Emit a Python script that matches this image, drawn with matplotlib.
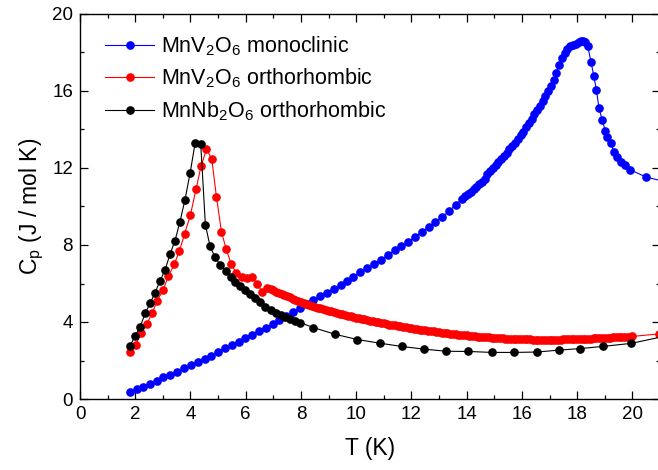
import matplotlib
matplotlib.use("Agg")
import matplotlib.pyplot as plt
from matplotlib.ticker import MultipleLocator

plt.rcParams['font.family'] = ['Liberation Sans', 'DejaVu Sans']
plt.rcParams['mathtext.default'] = 'regular'

# ---- MnV2O6 monoclinic (blue) ----
mono_T = [1.81, 2.05, 2.29, 2.54, 2.78, 3.02, 3.26, 3.53, 3.77, 4.02, 4.26, 4.51, 4.75, 5.00,
          5.24, 5.49, 5.74, 5.98, 6.23, 6.47, 6.73, 6.98, 7.22, 7.47, 7.73, 7.97, 8.22, 8.45,
          8.70, 8.94, 9.18, 9.44, 9.66, 9.90, 10.15, 10.40, 10.65, 10.89, 11.15, 11.39, 11.64,
          11.88, 12.13, 12.37, 12.62, 12.87, 13.12, 13.36, 13.60, 13.84,
          13.95, 14.05, 14.15, 14.25, 14.35, 14.45, 14.55, 14.65, 14.75, 14.85, 14.95, 15.05,
          15.15, 15.25, 15.35, 15.45, 15.55, 15.65, 15.75, 15.85, 15.95, 16.05, 16.15, 16.25,
          16.35, 16.45, 16.55, 16.65, 16.75, 16.85, 16.95, 17.05, 17.15, 17.25, 17.35, 17.45,
          17.55, 17.65, 17.75, 17.85, 17.95, 18.05, 18.15, 18.22, 18.30, 18.38,
          18.50, 18.60, 18.70, 18.79, 18.91, 19.02, 19.08, 19.23, 19.32, 19.44, 19.60, 19.75,
          19.93, 20.51, 21.30]
mono_Cp = [0.36, 0.51, 0.64, 0.79, 0.96, 1.12, 1.26, 1.42, 1.59, 1.75, 1.92, 2.09, 2.25, 2.44,
           2.63, 2.80, 2.98, 3.17, 3.34, 3.53, 3.70, 3.91, 4.12, 4.31, 4.52, 4.71, 4.93, 5.14,
           5.35, 5.53, 5.73, 5.92, 6.14, 6.36, 6.58, 6.79, 7.00, 7.24, 7.48, 7.72, 7.95,
           8.17, 8.42, 8.68, 8.94, 9.19, 9.47, 9.76, 10.08, 10.40,
           10.52, 10.64, 10.76, 10.89, 11.02, 11.15, 11.29, 11.45, 11.70, 11.86, 12.00, 12.15,
           12.31, 12.47, 12.63, 12.80, 12.97, 13.14, 13.32, 13.50, 13.69, 13.89, 14.11, 14.34,
           14.57, 14.79, 15.01, 15.23, 15.47, 15.73, 15.99, 16.27, 16.58, 16.96, 17.35, 17.70,
           17.96, 18.17, 18.33, 18.41, 18.46, 18.54, 18.60, 18.62, 18.56, 18.35,
           17.53, 16.80, 16.05, 15.11, 14.49, 13.92, 13.63, 13.28, 12.85, 12.59, 12.33, 12.16,
           11.90, 11.52, 11.25]

# ---- MnV2O6 orthorhombic (red) ----
orthoV_T = [1.81, 2.02, 2.21, 2.42, 2.61, 2.80, 3.01, 3.20, 3.41, 3.60, 3.79, 4.00, 4.20, 4.38,
            4.58, 4.77, 4.94, 5.12, 5.29, 5.47, 5.66, 5.85, 6.04, 6.23, 6.41, 6.59, 6.78,
            6.9, 7.0, 7.1, 7.2, 7.3, 7.4, 7.5, 7.6, 7.7, 7.8, 7.9, 8.0, 8.1, 8.2, 8.3, 8.4, 8.5,
            8.6, 8.7, 8.8, 8.9, 9.0, 9.1, 9.2, 9.3, 9.4, 9.5, 9.6, 9.7, 9.8, 9.9, 10.0, 10.1,
            10.2, 10.3, 10.4, 10.5, 10.6, 10.7, 10.8, 10.9, 11.0, 11.1, 11.2, 11.3, 11.4, 11.5,
            11.6, 11.7, 11.8, 11.9, 12.0, 12.1, 12.2, 12.3, 12.4, 12.5, 12.6, 12.7, 12.8, 12.9,
            13.0, 13.1, 13.2, 13.3, 13.4, 13.5, 13.6, 13.7, 13.8, 13.9, 14.0, 14.1, 14.2, 14.3,
            14.4, 14.5, 14.6, 14.7, 14.8, 14.9, 15.0, 15.1, 15.2, 15.3, 15.4, 15.5, 15.6, 15.7,
            15.8, 15.9, 16.0, 16.1, 16.2, 16.3, 16.4, 16.5, 16.6, 16.7, 16.8, 16.9, 17.0, 17.1,
            17.2, 17.3, 17.4, 17.5, 17.6, 17.7, 17.8, 17.9, 18.0, 18.1, 18.2, 18.3, 18.4, 18.5,
            18.6, 18.7, 18.8, 18.9, 19.0, 19.1, 19.2, 19.3, 19.4, 19.5, 19.6, 19.7, 19.8, 19.9,
            20.0, 20.95]
orthoV_Cp = [2.43, 2.81, 3.41, 3.90, 4.45, 5.11, 5.68, 6.37, 6.99, 7.70, 8.59, 9.57, 10.89, 12.08,
             12.97, 12.48, 10.51, 8.69, 7.80, 7.03, 6.53, 6.36, 6.26, 6.36, 5.99, 5.58, 5.76,
             5.70, 5.64, 5.58, 5.52, 5.46, 5.40, 5.34, 5.28, 5.22, 5.16, 5.10, 5.04, 4.99, 4.94,
             4.89, 4.84, 4.79, 4.75, 4.71, 4.67, 4.63, 4.59, 4.55, 4.51, 4.47, 4.43, 4.40, 4.36,
             4.32, 4.29, 4.25, 4.22, 4.19, 4.16, 4.13, 4.10, 4.07, 4.04, 4.01, 3.98, 3.95, 3.93,
             3.90, 3.87, 3.85, 3.82, 3.80, 3.77, 3.75, 3.72, 3.70, 3.68, 3.65, 3.63, 3.61, 3.59,
             3.57, 3.55, 3.53, 3.51, 3.49, 3.47, 3.45, 3.43, 3.41, 3.39, 3.37, 3.36, 3.34, 3.33,
             3.31, 3.30, 3.28, 3.27, 3.26, 3.24, 3.23, 3.22, 3.21, 3.20, 3.19, 3.18, 3.17, 3.16,
             3.15, 3.14, 3.14, 3.13, 3.12, 3.12, 3.11, 3.11, 3.10, 3.10, 3.10, 3.09, 3.09, 3.09,
             3.09, 3.09, 3.09, 3.08, 3.08, 3.09, 3.09, 3.09, 3.10, 3.10, 3.10, 3.11, 3.11, 3.12,
             3.12, 3.13, 3.13, 3.14, 3.14, 3.15, 3.16, 3.16, 3.17, 3.18, 3.18, 3.19, 3.20, 3.21,
             3.21, 3.22, 3.23, 3.24, 3.24, 3.25, 3.38]

# ---- MnNb2O6 orthorhombic (black) ----
orthoNb_T = [1.81, 1.99, 2.17, 2.36, 2.54, 2.72, 2.90, 3.08, 3.26, 3.44, 3.62, 3.80, 3.99, 4.17,
             4.37, 4.54, 4.71, 4.89, 5.07, 5.27, 5.45, 5.63, 5.81, 5.99, 6.17, 6.35, 6.53, 6.71,
             6.90, 7.08, 7.26, 7.44, 7.62, 7.80, 7.97, 8.45, 9.24, 10.04, 10.85, 11.65, 12.46,
             13.26, 14.05, 14.92, 15.72, 16.55, 17.34, 18.12, 18.92, 19.96, 21.30]
orthoNb_Cp = [2.75, 3.27, 3.72, 4.45, 4.97, 5.53, 6.14, 6.71, 7.52, 8.23, 9.21, 10.35, 11.76, 13.32,
              13.27, 9.05, 7.93, 7.36, 6.98, 6.63, 6.32, 6.08, 5.87, 5.66, 5.45, 5.23, 5.02, 4.80,
              4.63, 4.49, 4.37, 4.25, 4.14, 4.06, 3.97, 3.71, 3.36, 3.09, 2.90, 2.73, 2.59,
              2.48, 2.47, 2.42, 2.42, 2.44, 2.54, 2.62, 2.73, 2.89, 3.30]

labels = ['MnV$_2$O$_6$ monoclinic', 'MnV$_2$O$_6$ orthorhombic', 'MnNb$_2$O$_6$ orthorhombic']
colors = ['#0000ff', '#ff0000', '#000000']

fig = plt.figure(figsize=(6.58, 4.70), dpi=100)
ax = fig.add_axes([80/658, 71/470, 580/658, 385/470])

series = [(mono_T, mono_Cp), (orthoV_T, orthoV_Cp), (orthoNb_T, orthoNb_Cp)]
for (T, C), lab, col in zip(series, labels, colors):
    ax.plot(T, C, '-o', color=col, lw=0.8, ms=5.2, mec=col, mfc=col, label=lab)

ax.set_xlim(0, 21)
ax.set_ylim(0, 20)
ax.xaxis.set_major_locator(MultipleLocator(2))
ax.xaxis.set_minor_locator(MultipleLocator(1))
ax.yaxis.set_major_locator(MultipleLocator(4))
ax.yaxis.set_minor_locator(MultipleLocator(2))
ax.tick_params(which='both', direction='in', top=True, right=True, width=0.9, labelsize=13.5)
ax.tick_params(which='major', length=6, pad=5)
ax.tick_params(which='minor', length=3)
for s in ax.spines.values():
    s.set_linewidth(1.0)

ax.set_xlabel('T (K)', fontsize=16.5, labelpad=10)
ax.set_ylabel('C$_p$ (J / mol K)', fontsize=16.5, labelpad=4)

leg = ax.legend(loc='upper left', bbox_to_anchor=(0.028, 0.97), frameon=False, fontsize=15.5,
                handlelength=2.3, handletextpad=0.3, labelspacing=0.42, numpoints=1,
                borderaxespad=0.0)

fig.savefig('out.png', dpi=100)
